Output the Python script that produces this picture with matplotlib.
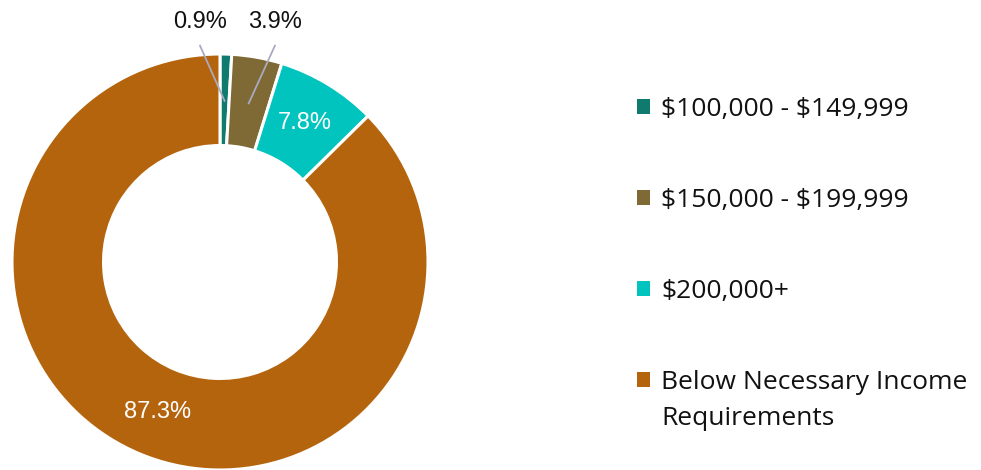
import matplotlib.pyplot as plt
import numpy as np

plt.rcParams['text.parse_math'] = False

# data
categories = ['$100,000 - $149,999', '$150,000 - $199,999', '$200,000+',
              'Below Necessary Income']
last_line = 'Requirements'
shares = [0.9, 3.9, 7.8, 87.3]
colors = ['#0f7b6e', '#7f6a35', '#00c4bd', '#b5640e']

fig = plt.figure(figsize=(9.81, 4.70), dpi=100)
ax = fig.add_axes([12/981, 0, 416/981, 416/470])

wedges, _ = ax.pie(shares, colors=colors, startangle=90, counterclock=False,
                   radius=1, wedgeprops=dict(width=0.44, edgecolor='white', linewidth=2.2))
ax.set_xlim(-1, 1)
ax.set_ylim(-1, 1)
ax.set_aspect('equal')
ax.axis('off')

# percentage labels
lab_font = dict(family='Liberation Sans', fontsize=17)
cum = np.cumsum(shares) - np.array(shares) / 2
for i, (s, c) in enumerate(zip(shares, cum)):
    ang = np.deg2rad(90 - c * 3.6)
    txt = f'{s:.1f}%'
    if s < 5:
        # small slices: label outside with a leader line
        x0, y0 = 0.775 * np.cos(ang), 0.775 * np.sin(ang)
        tx = [-0.096, 0.264][i]
        ax.plot([x0, tx], [y0, 1.04], color='#a9aac0', lw=1.3, clip_on=False)
        ax.text(tx, 1.155, txt, ha='center', va='center', color='#111111',
                clip_on=False, **lab_font)
    else:
        ax.text(0.78 * np.cos(ang), 0.78 * np.sin(ang), txt, ha='center',
                va='center', color='white', **lab_font)

leg_font = dict(family='Open Sans', size=19)
leg = fig.legend(wedges, categories, loc='upper left', bbox_to_anchor=(624/981, 1 - 84/470),
                 frameon=False, handlelength=0.5, handleheight=0.5, handletextpad=0.4,
                 labelspacing=2.5, borderpad=0, prop=leg_font)
for h in leg.legend_handles:
    h.set_edgecolor('none')
for t in leg.get_texts():
    t.set_color('#111111')

# second line of the last legend label
fig.canvas.draw()
bb = leg.get_texts()[-1].get_window_extent()
fig.text(bb.x0 / 981, (bb.y0 - 36) / 470, last_line, ha='left', va='bottom',
         color='#111111', family='Open Sans', fontsize=19)

fig.savefig('out.png', dpi=100)
